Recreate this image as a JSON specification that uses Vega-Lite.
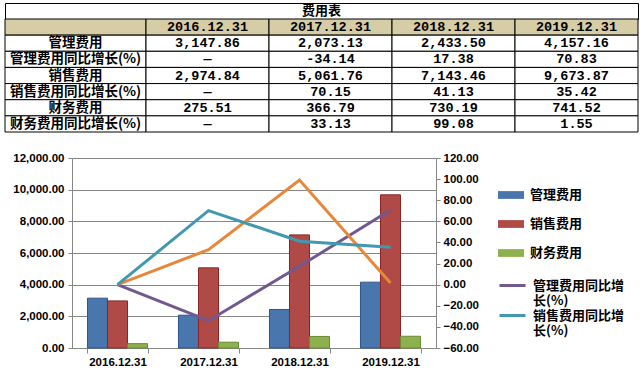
{
  "$schema": "https://vega.github.io/schema/vega-lite/v6.json",
  "padding": {"left": 4, "top": 2, "right": 0, "bottom": 0},
  "background": "white",
  "config": {
    "view": {"stroke": null},
    "axis": {"labelFont": "Liberation Sans", "labelFontWeight": "bold", "labelFontSize": 11.5, "labelColor": "#000", "title": null},
    "legend": {"title": null, "padding": 0, "labelFont": "Noto Sans CJK SC", "labelFontWeight": "bold", "labelFontSize": 13, "labelColor": "#000", "labelOffset": 6, "labelLimit": 200, "orient": "none", "legendX": 426}
  },
  "datasets": {
    "rows": [
      {"r": 0, "label": ""},
      {"r": 1, "label": "管理费用"},
      {"r": 2, "label": "管理费用同比增长(%)"},
      {"r": 3, "label": "销售费用"},
      {"r": 4, "label": "销售费用同比增长(%)"},
      {"r": 5, "label": "财务费用"},
      {"r": 6, "label": "财务费用同比增长(%)"}
    ],
    "cells": [
      {"r": 0, "col": "2016.12.31", "val": "2016.12.31"},
      {"r": 0, "col": "2017.12.31", "val": "2017.12.31"},
      {"r": 0, "col": "2018.12.31", "val": "2018.12.31"},
      {"r": 0, "col": "2019.12.31", "val": "2019.12.31"},
      {"r": 1, "col": "2016.12.31", "val": "3,147.86"},
      {"r": 1, "col": "2017.12.31", "val": "2,073.13"},
      {"r": 1, "col": "2018.12.31", "val": "2,433.50"},
      {"r": 1, "col": "2019.12.31", "val": "4,157.16"},
      {"r": 2, "col": "2016.12.31", "val": "—"},
      {"r": 2, "col": "2017.12.31", "val": "-34.14"},
      {"r": 2, "col": "2018.12.31", "val": "17.38"},
      {"r": 2, "col": "2019.12.31", "val": "70.83"},
      {"r": 3, "col": "2016.12.31", "val": "2,974.84"},
      {"r": 3, "col": "2017.12.31", "val": "5,061.76"},
      {"r": 3, "col": "2018.12.31", "val": "7,143.46"},
      {"r": 3, "col": "2019.12.31", "val": "9,673.87"},
      {"r": 4, "col": "2016.12.31", "val": "—"},
      {"r": 4, "col": "2017.12.31", "val": "70.15"},
      {"r": 4, "col": "2018.12.31", "val": "41.13"},
      {"r": 4, "col": "2019.12.31", "val": "35.42"},
      {"r": 5, "col": "2016.12.31", "val": "275.51"},
      {"r": 5, "col": "2017.12.31", "val": "366.79"},
      {"r": 5, "col": "2018.12.31", "val": "730.19"},
      {"r": 5, "col": "2019.12.31", "val": "741.52"},
      {"r": 6, "col": "2016.12.31", "val": "—"},
      {"r": 6, "col": "2017.12.31", "val": "33.13"},
      {"r": 6, "col": "2018.12.31", "val": "99.08"},
      {"r": 6, "col": "2019.12.31", "val": "1.55"}
    ],
    "bars": [
      {"date": "2016.12.31", "series": "管理费用", "value": 3147.86},
      {"date": "2017.12.31", "series": "管理费用", "value": 2073.13},
      {"date": "2018.12.31", "series": "管理费用", "value": 2433.50},
      {"date": "2019.12.31", "series": "管理费用", "value": 4157.16},
      {"date": "2016.12.31", "series": "销售费用", "value": 2974.84},
      {"date": "2017.12.31", "series": "销售费用", "value": 5061.76},
      {"date": "2018.12.31", "series": "销售费用", "value": 7143.46},
      {"date": "2019.12.31", "series": "销售费用", "value": 9673.87},
      {"date": "2016.12.31", "series": "财务费用", "value": 275.51},
      {"date": "2017.12.31", "series": "财务费用", "value": 366.79},
      {"date": "2018.12.31", "series": "财务费用", "value": 730.19},
      {"date": "2019.12.31", "series": "财务费用", "value": 741.52}
    ],
    "growth": [
      {"date": "2016.12.31", "series": "管理费用同比增长(%)", "value": 0},
      {"date": "2017.12.31", "series": "管理费用同比增长(%)", "value": -34.14},
      {"date": "2018.12.31", "series": "管理费用同比增长(%)", "value": 17.38},
      {"date": "2019.12.31", "series": "管理费用同比增长(%)", "value": 70.83},
      {"date": "2016.12.31", "series": "销售费用同比增长(%)", "value": 0},
      {"date": "2017.12.31", "series": "销售费用同比增长(%)", "value": 70.15},
      {"date": "2018.12.31", "series": "销售费用同比增长(%)", "value": 41.13},
      {"date": "2019.12.31", "series": "销售费用同比增长(%)", "value": 35.42},
      {"date": "2016.12.31", "series": "财务费用同比增长(%)", "value": 0},
      {"date": "2017.12.31", "series": "财务费用同比增长(%)", "value": 33.13},
      {"date": "2018.12.31", "series": "财务费用同比增长(%)", "value": 99.08},
      {"date": "2019.12.31", "series": "财务费用同比增长(%)", "value": 1.55}
    ]
  },
  "spacing": 19,
  "vconcat": [
    {
      "spacing": 0,
      "bounds": "flush",
      "vconcat": [
        {
          "width": 633,
          "height": 16,
          "view": {"stroke": "#000", "strokeWidth": 1},
          "data": {"values": [{"t": "费用表"}]},
          "mark": {"type": "text", "font": "Noto Sans CJK SC", "fontWeight": "bold", "fontSize": 13, "baseline": "middle"},
          "encoding": {"text": {"field": "t"}}
        },
        {
          "spacing": 0,
          "bounds": "flush",
          "hconcat": [
            {
              "width": 141,
              "height": 113,
              "data": {"name": "rows"},
              "encoding": {
                "y": {"field": "r", "type": "ordinal", "axis": null, "scale": {"paddingInner": 0, "paddingOuter": 0}}
              },
              "layer": [
                {
                  "mark": {"type": "rect", "stroke": "#000", "strokeWidth": 1},
                  "encoding": {
                    "fill": {"condition": {"test": "datum.r === 0", "value": "#d6cca6"}, "value": "#ffffff"}
                  }
                },
                {
                  "mark": {"type": "text", "font": "Noto Sans CJK SC", "fontWeight": "bold", "fontSize": 13.5, "baseline": "middle", "color": "#000"},
                  "encoding": {"text": {"field": "label"}}
                }
              ]
            },
            {
              "width": 492,
              "height": 113,
              "data": {"name": "cells"},
              "encoding": {
                "x": {"field": "col", "type": "nominal", "axis": null, "scale": {"paddingInner": 0, "paddingOuter": 0}},
                "y": {"field": "r", "type": "ordinal", "axis": null, "scale": {"paddingInner": 0, "paddingOuter": 0}}
              },
              "layer": [
                {
                  "mark": {"type": "rect", "stroke": "#000", "strokeWidth": 1},
                  "encoding": {
                    "fill": {"condition": {"test": "datum.r === 0", "value": "#d6cca6"}, "value": "#ffffff"}
                  }
                },
                {
                  "mark": {"type": "text", "font": "Liberation Mono", "fontWeight": "bold", "fontSize": 13.5, "baseline": "middle", "color": "#000"},
                  "encoding": {"text": {"field": "val"}}
                }
              ]
            }
          ]
        }
      ]
    },
    {
      "spacing": 0,
      "hconcat": [
        {
          "width": 1,
          "height": 190,
          "data": {"values": [{"t": ""}]},
          "mark": {"type": "text"},
          "encoding": {"text": {"field": "t"}}
        },
        {
          "width": 364,
          "height": 190,
          "layer": [
            {
              "data": {"name": "bars"},
              "mark": {"type": "bar", "strokeWidth": 1},
              "encoding": {
                "x": {
                  "field": "date", "type": "nominal",
                  "scale": {"paddingInner": 0.34, "paddingOuter": 0.17},
                  "axis": {"labelAngle": 0, "tickBand": "extent", "tickSize": 5, "tickColor": "#868686", "domainColor": "#868686", "labelPadding": 3}
                },
                "xOffset": {"field": "series", "type": "nominal", "sort": ["管理费用", "销售费用", "财务费用"], "scale": {"paddingInner": 0, "paddingOuter": 0}},
                "y": {
                  "field": "value", "type": "quantitative",
                  "scale": {"domain": [0, 12000], "nice": false},
                  "axis": {"values": [0, 2000, 4000, 6000, 8000, 10000, 12000], "format": ",.2f", "grid": true, "gridColor": "#868686", "domainColor": "#868686", "tickColor": "#868686", "tickSize": 4, "labelPadding": 4, "minExtent": 66}
                },
                "color": {
                  "field": "series", "type": "nominal",
                  "scale": {"domain": ["管理费用", "销售费用", "财务费用"], "range": ["#4a76ae", "#b04a47", "#8eb150"]},
                  "legend": {
                    "legendY": 24,
                    "symbolType": "M-1,-0.3H1V0.3H-1Z", "symbolSize": 676, "symbolStrokeWidth": 0, "symbolOpacity": 1,
                    "rowPadding": 9
                  }
                },
                "stroke": {
                  "field": "series", "type": "nominal",
                  "scale": {"domain": ["管理费用", "销售费用", "财务费用"], "range": ["#2c5590", "#8b2523", "#6b8a37"]},
                  "legend": null
                }
              }
            },
            {
              "data": {"name": "growth"},
              "transform": [{"filter": "datum.series !== '销售费用同比增长(%)'"}],
              "mark": {"type": "line", "strokeWidth": 3},
              "encoding": {
                "x": {"field": "date", "type": "nominal"},
                "y": {
                  "field": "value", "type": "quantitative",
                  "scale": {"domain": [-60, 120], "nice": false},
                  "axis": {"orient": "right", "values": [-60, -40, -20, 0, 20, 40, 60, 80, 100, 120], "format": ".2f", "grid": false, "domainColor": "#868686", "tickColor": "#868686", "tickSize": 4, "labelPadding": 3}
                },
                "color": {
                  "field": "series", "type": "nominal",
                  "scale": {"domain": ["管理费用同比增长(%)", "财务费用同比增长(%)"], "range": ["#71588f", "#e8873a"]},
                  "legend": {
                    "legendY": 113,
                    "values": ["管理费用同比增长(%)"],
                    "symbolType": "stroke", "symbolSize": 676, "symbolStrokeWidth": 3,
                    "labelExpr": "length(datum.label) > 7 ? [substring(datum.label, 0, 7), substring(datum.label, 7)] : datum.label"
                  }
                }
              }
            },
            {
              "data": {"name": "growth"},
              "transform": [{"filter": "datum.series === '销售费用同比增长(%)'"}],
              "mark": {"type": "line", "strokeWidth": 3},
              "encoding": {
                "x": {"field": "date", "type": "nominal"},
                "y": {"field": "value", "type": "quantitative", "scale": {"domain": [-60, 120], "nice": false}, "axis": null},
                "stroke": {
                  "field": "series", "type": "nominal",
                  "scale": {"domain": ["销售费用同比增长(%)"], "range": ["#4198af"]},
                  "legend": {
                    "legendY": 143,
                    "symbolType": "stroke", "symbolSize": 676, "symbolStrokeWidth": 3,
                    "labelExpr": "length(datum.label) > 7 ? [substring(datum.label, 0, 7), substring(datum.label, 7)] : datum.label"
                  }
                }
              }
            }
          ],
          "resolve": {"scale": {"y": "independent", "color": "independent", "stroke": "independent"}}
        }
      ]
    }
  ]
}
